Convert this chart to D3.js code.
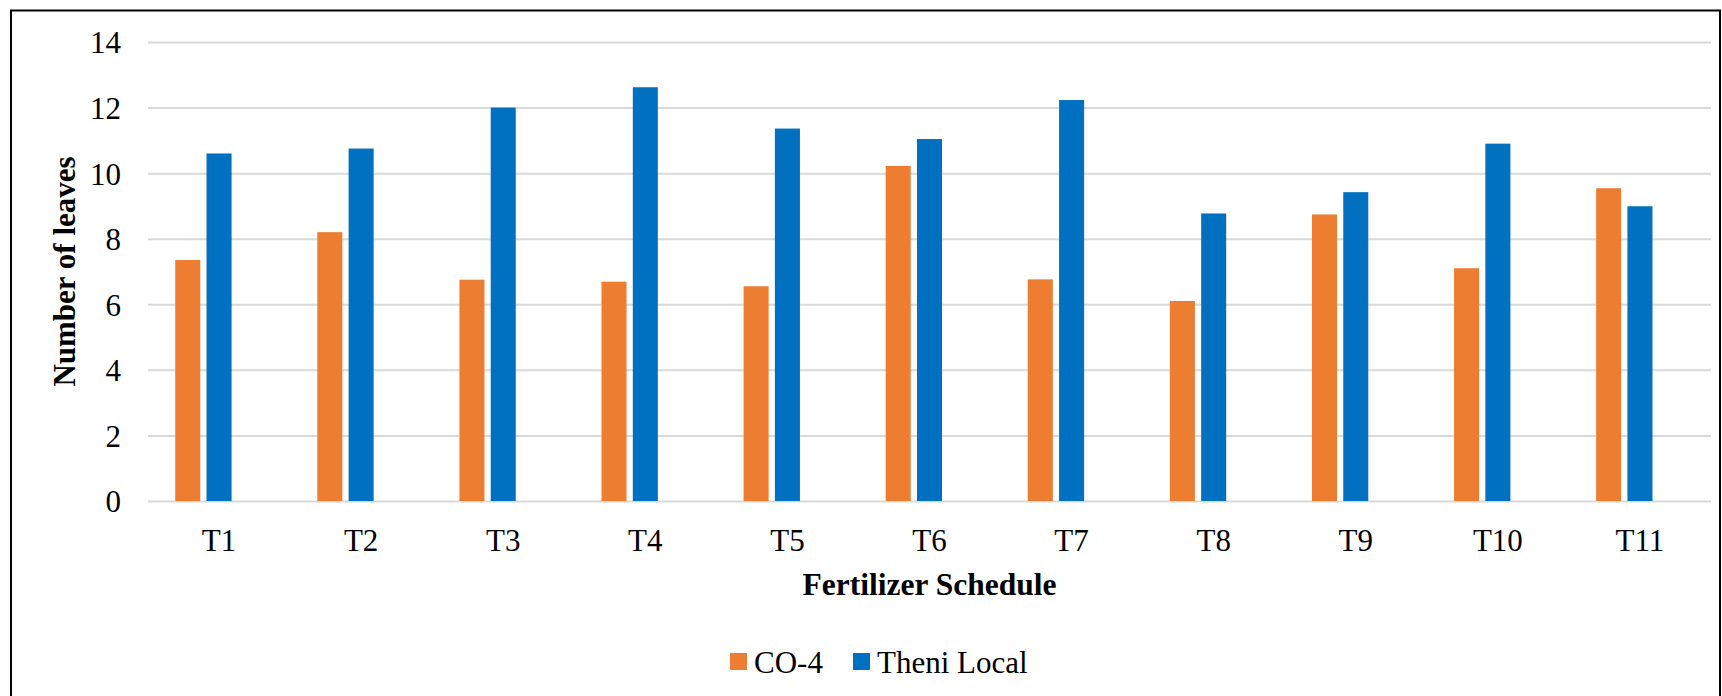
<!DOCTYPE html>
<html>
<head>
<meta charset="utf-8">
<script src="https://cdn.jsdelivr.net/npm/d3@7"></script>
<style>
    body { margin: 0; background: #fff; }
    svg { display: block; font-family: "Liberation Serif", "Times New Roman", serif; }
</style>
</head>
<body>
<div id="chart"></div>
<script>
// Chart data
const categories = ["T1", "T2", "T3", "T4", "T5", "T6", "T7", "T8", "T9", "T10", "T11"];
const seriesNames = ["CO-4", "Theni Local"];
const co4Values = [7.35, 8.2, 6.75, 6.69, 6.55, 10.22, 6.76, 6.1, 8.74, 7.1, 9.54];
const theniValues = [10.6, 10.75, 12.0, 12.62, 11.36, 11.04, 12.23, 8.77, 9.42, 10.9, 8.99];
const yTicks = [0, 2, 4, 6, 8, 10, 12, 14];
const colors = ["#ED7D31", "#0070C0"];

const FONT = '"Liberation Serif", "Times New Roman", serif';
const W = 1722, H = 696;
const margin = {top: 42, right: 11, bottom: 195, left: 148};
const width = W - margin.left - margin.right;
const height = H - margin.top - margin.bottom;

const svg = d3.select("#chart")
    .append("svg")
    .attr("width", W)
    .attr("height", H);

svg.append("rect")
    .attr("width", W).attr("height", H)
    .attr("fill", "#fff");

// Outer chart border (bottom edge falls outside the picture)
svg.append("rect")
    .attr("x", 11).attr("y", 10.5)
    .attr("width", 1709).attr("height", 700)
    .attr("fill", "none")
    .attr("stroke", "#000")
    .attr("stroke-width", 2);

const g = svg.append("g")
    .attr("transform", `translate(${margin.left},${margin.top})`);

// X scale
const x = d3.scaleBand()
    .domain(categories)
    .range([0, width])
    .padding(0);

// Bars sit in slots 0 and 1 of three (third slot is empty, as in the source)
const x1 = d3.scaleBand()
    .domain([0, 1, 2])
    .range([0, x.bandwidth()])
    .paddingInner(0.2)
    .paddingOuter(0.87);

// Y scale
const y = d3.scaleLinear()
    .domain([0, 14])
    .range([height, 0]);

// Gridlines + y labels
const yAxis = g.append("g")
    .call(d3.axisLeft(y).tickValues(yTicks).tickSize(-width).tickPadding(27))
    .attr("font-family", FONT);
yAxis.select(".domain").remove();
yAxis.selectAll("line")
    .attr("stroke", "#d9d9d9")
    .attr("stroke-width", 2);
yAxis.selectAll("text")
    .attr("fill", "#000")
    .attr("dy", "0.35em")
    .style("font-size", "31px");

// Bars
const series = [co4Values, theniValues];
series.forEach((vals, si) => {
    g.append("g")
        .selectAll("rect")
        .data(vals)
        .join("rect")
        .attr("x", (d, i) => x(categories[i]) + x1(si))
        .attr("y", d => y(d))
        .attr("width", x1.bandwidth())
        .attr("height", d => y(0) - y(d))
        .attr("fill", colors[si]);
});

// X labels (centered on the category)
const xAxis = g.append("g")
    .attr("transform", `translate(0,${height})`)
    .call(d3.axisBottom(x).tickSize(0))
    .attr("font-family", FONT);
xAxis.select(".domain").remove();
xAxis.selectAll("text")
    .attr("y", 50)
    .attr("dy", null)
    .attr("fill", "#000")
    .style("font-size", "31px");

// Axis titles
g.append("text")
    .attr("x", width / 2)
    .attr("y", 595 - margin.top)
    .attr("text-anchor", "middle")
    .style("font-size", "31.5px")
    .style("font-weight", "bold")
    .text("Fertilizer Schedule");

svg.append("text")
    .attr("transform", `translate(75,${margin.top + height / 2}) rotate(-90)`)
    .attr("text-anchor", "middle")
    .style("font-size", "31px")
    .style("font-weight", "bold")
    .text("Number of leaves");

// Legend
const legendX = [730, 853];
const legend = svg.append("g");
seriesNames.forEach((name, i) => {
    legend.append("rect")
        .attr("x", legendX[i]).attr("y", 653)
        .attr("width", 17).attr("height", 17)
        .attr("fill", colors[i]);
    legend.append("text")
        .attr("x", legendX[i] + 24)
        .attr("y", 673)
        .style("font-size", "31px")
        .text(name);
});
</script>
</body>
</html>
